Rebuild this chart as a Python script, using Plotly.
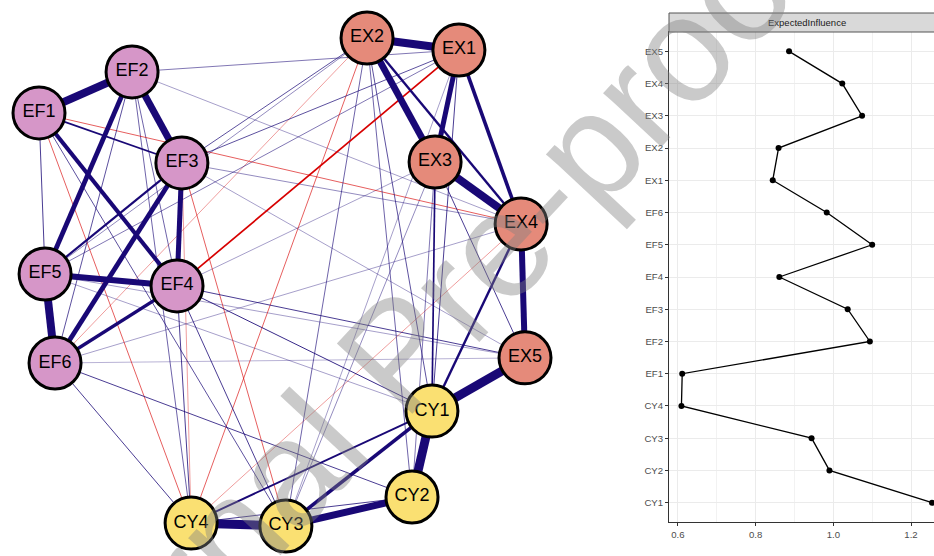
import plotly.graph_objects as go

W, H = 934, 556

# ---- network: nodes, groups and layout coordinates ----
nodes = ["EF1", "EF2", "EF3", "EF4", "EF5", "EF6",
         "EX1", "EX2", "EX3", "EX4", "EX5",
         "CY1", "CY2", "CY3", "CY4"]
groups = ["EF"] * 6 + ["EX"] * 5 + ["CY"] * 4
layout_x = [-1.000, -0.617, -0.412, -0.432, -0.975, -0.934,
            0.728, 0.350, 0.630, 0.984, 1.000,
            0.617, 0.535, 0.016, -0.374]
layout_y = [0.693, 0.861, 0.488, -0.016, 0.033, -0.332,
            0.951, 1.000, 0.492, 0.238, -0.311,
            -0.529, -0.881, -1.000, -0.988]
group_colors = {"EF": "#D696C8", "EX": "#E58A7A", "CY": "#FAE072"}

# partial-correlation edges (from, to, weight)
edge_from = ["EF1", "EF2", "EF2", "EF1", "EF3", "EF3", "EF4", "EF5", "EF4", "EF3",
             "EF1", "EF1", "EF2", "EF2", "EF2",
             "EX1", "EX2", "EX1", "EX3", "EX1", "EX2", "EX4", "EX3",
             "EX5", "EX4", "EX3", "EX1", "EX2",
             "CY1", "CY2", "CY3", "CY1", "CY1", "CY2",
             "EF4", "EF4", "EF4", "EF4", "EF4", "EF4",
             "EF3", "EF3", "EF3", "EF3", "EF3",
             "EF1", "EF1", "EF1", "EF2", "EF5", "EF6", "EX2", "EX2", "EX2",
             "EF6", "EF6", "EF5", "EX4", "EX1", "EF2", "EF5", "EX3", "EX3",
             "EF6", "EF5", "EF6", "EF3"]
edge_to = ["EF2", "EF3", "EF5", "EF4", "EF4", "EF6", "EF5", "EF6", "EF6", "EF5",
           "EF3", "EF5", "EF6", "EF4", "CY4",
           "EX2", "EX3", "EX3", "EX4", "EX4", "EX4", "EX5", "EX5",
           "CY1", "CY1", "CY1", "CY1", "CY1",
           "CY2", "CY3", "CY4", "CY3", "CY4", "CY4",
           "EX1", "EX3", "EX5", "CY1", "CY4", "CY3",
           "EX2", "EX1", "EX4", "CY3", "CY4",
           "EX4", "CY4", "CY3", "EX1", "EX1", "EX2", "CY4", "CY3", "CY2",
           "CY4", "CY2", "EX5", "CY4", "CY3", "EX4", "EX2", "CY2", "CY3",
           "EX4", "CY1", "EX5", "EX5"]
edge_weight = [0.38, 0.34, 0.25, 0.22, 0.26, 0.25, 0.30, 0.38, 0.19, 0.14,
               0.12, 0.08, 0.07, 0.06, 0.06,
               0.38, 0.33, 0.26, 0.38, 0.20, 0.15, 0.30, 0.08,
               0.42, 0.15, 0.12, 0.08, 0.07,
               0.42, 0.34, 0.42, 0.20, 0.13, 0.08,
               -0.12, 0.03, 0.08, 0.09, 0.08, 0.08,
               0.07, 0.07, 0.04, -0.06, -0.03,
               -0.06, -0.06, 0.07, 0.05, 0.05, -0.03, -0.06, 0.06, 0.06,
               0.08, 0.08, 0.03, -0.03, 0.03, 0.03, 0.04, 0.05, 0.04,
               0.03, 0.03, 0.02, 0.03]

# ---- centrality: expected influence ----
ei_nodes = ["CY1", "CY2", "CY3", "CY4", "EF1", "EF2", "EF3", "EF4",
            "EF5", "EF6", "EX1", "EX2", "EX3", "EX4", "EX5"]
ei_values = [1.254, 0.990, 0.944, 0.609, 0.611, 1.094, 1.037, 0.861,
             1.100, 0.983, 0.844, 0.859, 1.074, 1.023, 0.886]
ei_ticks = [0.6, 0.8, 1.0, 1.2]

fig = go.Figure()

idx = {n: i for i, n in enumerate(nodes)}


def edge_style(w):
    a = abs(w)
    if a > 0.1:
        width = 1.2 + (a - 0.1) * 24
        alpha = 1.0
    else:
        width = 1.0
        alpha = 0.15 + a * 8
    alpha = min(alpha, 1.0)
    if w > 0:
        col = f"rgba(25,8,118,{alpha:.2f})"
    else:
        col = f"rgba(215,0,0,{alpha:.2f})"
    return width, col


# weakest edges first so strong ones sit on top
order = sorted(range(len(edge_weight)), key=lambda k: abs(edge_weight[k]))
for k in order:
    a, b = idx[edge_from[k]], idx[edge_to[k]]
    width, col = edge_style(edge_weight[k])
    fig.add_trace(go.Scatter(
        x=[layout_x[a], layout_x[b]], y=[layout_y[a], layout_y[b]],
        mode="lines", line=dict(color=col, width=width),
        hoverinfo="skip", showlegend=False, xaxis="x", yaxis="y"))

fig.add_trace(go.Scatter(
    x=layout_x, y=layout_y, mode="markers+text", text=nodes,
    textposition="middle center",
    textfont=dict(family="Liberation Sans, Arial", size=18, color="black"),
    marker=dict(size=52, color=[group_colors[g] for g in groups],
                line=dict(color="black", width=3)),
    showlegend=False, xaxis="x", yaxis="y", cliponaxis=False))

# ---- expected influence panel ----
fig.add_trace(go.Scatter(
    x=ei_values, y=ei_nodes, mode="lines+markers",
    line=dict(color="black", width=1.3),
    marker=dict(color="black", size=6),
    showlegend=False, xaxis="x2", yaxis="y2"))

# axis geometry
net_x0 = -1.1605
net_x1 = net_x0 + W / 243.0
net_y0 = -1.123
net_y1 = 1.1557

px_left, px_bottom, px_top = 669, 522, 32
x2_lo = 0.577
x2_hi = x2_lo + (W - px_left) / 388.5

axis_font = dict(family="Liberation Sans, Arial", size=9.6, color="#4D4D4D")

fig.update_layout(
    width=W, height=H,
    margin=dict(l=0, r=0, t=0, b=0),
    paper_bgcolor="white", plot_bgcolor="rgba(0,0,0,0)",
    xaxis=dict(domain=[0, 1], range=[net_x0, net_x1], visible=False, fixedrange=True),
    yaxis=dict(domain=[0, 1], range=[net_y0, net_y1], visible=False, fixedrange=True),
    xaxis2=dict(domain=[px_left / W, 1], range=[x2_lo, x2_hi], anchor="y2",
                tickvals=ei_ticks, ticktext=[f"{t:.1f}" for t in ei_ticks],
                showgrid=True, gridcolor="#EBEBEB", gridwidth=1,
                minor=dict(dtick=0.1, tick0=0.6, showgrid=True, gridcolor="#F2F2F2", gridwidth=0.7),
                showline=True, linecolor="#333333", linewidth=1, mirror=True,
                ticks="outside", ticklen=3, tickcolor="#333333",
                tickfont=axis_font, zeroline=False),
    yaxis2=dict(domain=[(H - px_bottom) / H, (H - px_top) / H], anchor="x2",
                type="category", categoryorder="array", categoryarray=ei_nodes,
                range=[-0.6, len(ei_nodes) - 0.4],
                showgrid=True, gridcolor="#EBEBEB", gridwidth=1,
                showline=True, linecolor="#333333", linewidth=1, mirror=False,
                ticks="outside", ticklen=3, tickcolor="#333333",
                tickfont=axis_font, zeroline=False),
    shapes=[dict(type="rect", xref="paper", yref="paper",
                 x0=px_left / W, x1=1.02, y0=(H - 32) / H, y1=(H - 13) / H,
                 fillcolor="#D9D9D9", line=dict(color="#555555", width=1))],
    annotations=[
        dict(text="ExpectedInfluence", xref="paper", yref="paper",
             x=807 / W, y=(H - 22.5) / H, showarrow=False,
             xanchor="center", yanchor="middle",
             font=dict(family="Liberation Sans, Arial", size=9.5, color="#1A1A1A")),
        dict(text="Journal Pre-proof", xref="paper", yref="paper",
             x=397 / W, y=1 - 354 / H, showarrow=False, textangle=-47,
             xanchor="center", yanchor="middle",
             font=dict(family="Liberation Sans, Arial", size=150,
                       color="rgba(128,128,128,0.42)")),
    ],
)

fig.write_html("out.html")
